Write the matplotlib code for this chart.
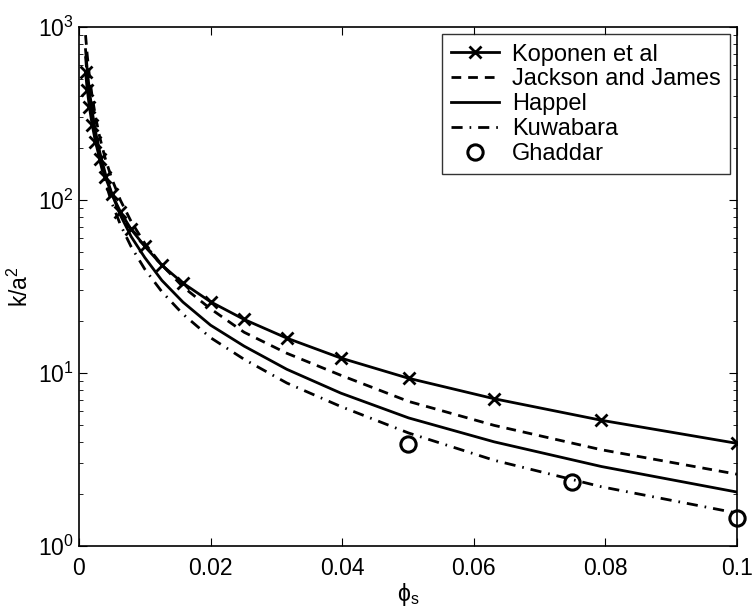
import numpy as np
import matplotlib
matplotlib.use('Agg')
import matplotlib.pyplot as plt

plt.rcParams['font.family'] = ['Liberation Sans', 'DejaVu Sans']
plt.rcParams['mathtext.fontset'] = 'custom'
plt.rcParams['mathtext.rm'] = 'Liberation Sans'

# solid fraction, log spaced (10 per decade)
phi = [0.001, 0.00126, 0.00158, 0.002, 0.00251, 0.00316, 0.00398, 0.00501,
       0.00631, 0.00794, 0.01, 0.0126, 0.0158, 0.02, 0.0251, 0.0316,
       0.0398, 0.0501, 0.0631, 0.0794, 0.1]

koponen = [548, 434.5, 346, 273, 217.3, 172.2, 136.4, 108.0, 85.4, 67.6,
           54.0, 42.0, 33.1, 25.8, 20.4, 15.9, 12.2, 9.32, 7.1, 5.33, 3.92]
jackson = [898, 685.7, 525.6, 397.9, 303.7, 230.5, 174.6, 132.0, 99.5, 75.0,
           56.2, 42.1, 31.5, 23.5, 17.2, 13.0, 9.7, 6.85, 4.98, 3.6, 2.6]
happel = [740, 564.6, 432.5, 327.2, 249.6, 189.4, 143.3, 108.3, 81.5, 61.4,
          46.5, 34.3, 25.7, 18.9, 14.3, 10.5, 7.65, 5.5, 4.0, 2.88, 2.05]
kuwabara = [677.6, 515.1, 393.1, 296.1, 224.8, 169.7, 127.7, 95.9, 71.8, 53.6,
            39.85, 29.5, 21.9, 16.0, 12.0, 8.75, 6.4, 4.5, 3.13, 2.2, 1.55]

ghaddar_phi = [0.05, 0.075, 0.1]
ghaddar = [3.9, 2.33, 1.45]

fig = plt.figure(figsize=(7.52, 6.07), dpi=100)
ax = fig.add_axes([0.105, 0.1005, 0.875, 0.855])

lw = 2.0
ax.plot(phi, koponen, 'k-', marker='x', ms=9, mew=2, lw=lw, label='Koponen et al')
ax.plot(phi, jackson, 'k--', lw=lw, dashes=(3.5, 2.5), label='Jackson and James')
ax.plot(phi, happel, 'k-', lw=lw, label='Happel')
ax.plot(phi, kuwabara, 'k-.', lw=lw, dashes=(4, 2.5, 0.6, 2.5), label='Kuwabara')
ax.plot(ghaddar_phi, ghaddar, 'ko', mfc='none', ms=11, mew=2.2, label='Ghaddar',
        clip_on=False)

ax.set_yscale('log')
ax.set_xlim(0, 0.1)
ax.set_ylim(1, 1000)
ax.set_xticks([0, 0.02, 0.04, 0.06, 0.08, 0.1])
ax.set_xticklabels(['0', '0.02', '0.04', '0.06', '0.08', '0.1'])
ax.tick_params(which='both', direction='in', top=True, right=True, labelsize=16.5)
ax.tick_params(which='major', length=6)
ax.tick_params(which='minor', length=3)
ax.tick_params(axis='x', pad=8)
for s in ax.spines.values():
    s.set_linewidth(1.2)

ax.set_xlabel('ϕ$_\\mathregular{s}$', fontsize=16.5, labelpad=1)
ax.set_ylabel(r'k/a$^\mathregular{2}$', fontsize=16.5, labelpad=4)

leg = ax.legend(loc='upper right', fontsize=17, frameon=True, fancybox=False,
                edgecolor='k', borderaxespad=0.3, handlelength=2.0,
                handletextpad=0.55, labelspacing=0.12, borderpad=0.4)
leg.get_frame().set_linewidth(1.0)

fig.savefig('out.png', dpi=100)
